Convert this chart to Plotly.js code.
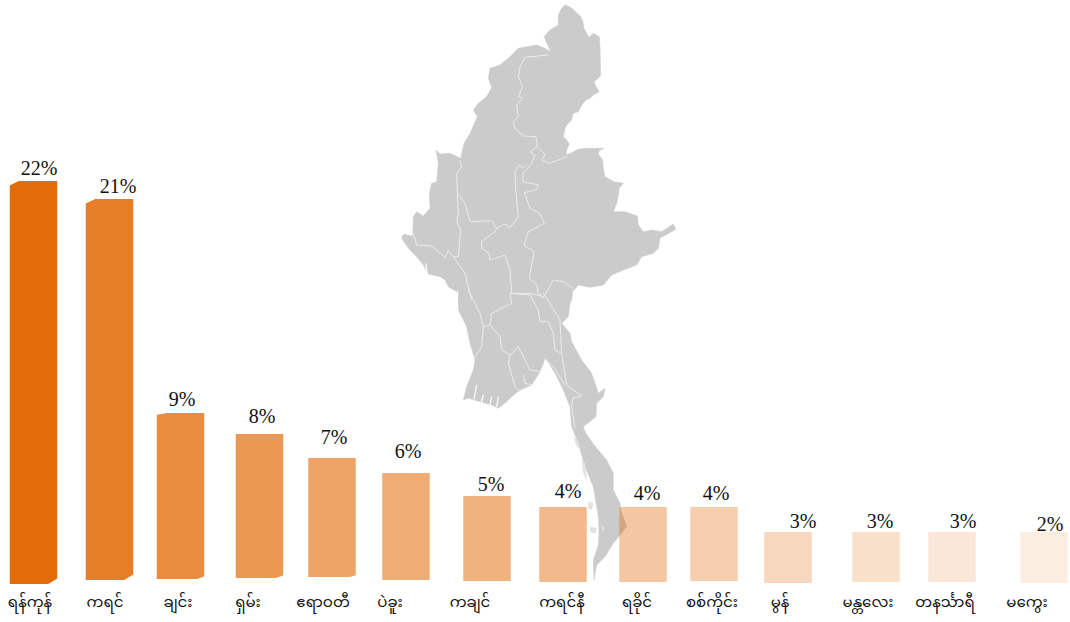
<!DOCTYPE html>
<html>
<head>
<meta charset="utf-8">
<script src="https://cdn.plot.ly/plotly-3.0.1.min.js"></script>
<style>html,body{margin:0;padding:0;background:#fff}#chart{width:1070px;height:622px}</style>
</head>
<body>
<div id="chart"></div>
<script>
// ---- data ----
const regions = ["ရန်ကုန်","ကရင်","ချင်း","ရှမ်း","ဧရာဝတီ","ပဲခူး","ကချင်","ကရင်နီ","ရခိုင်","စစ်ကိုင်း","မွန်","မန္တလေး","တနင်္သာရီ","မကွေး"];
const shareLabels = ["22%","21%","9%","8%","7%","6%","5%","4%","4%","4%","3%","3%","3%","2%"];
const barTops = [22,21,9.2,8.05,6.73,5.9,4.63,4.02,4.02,4.02,2.65,2.65,2.65,2.65];
const barBases = [-0.22,0,0.06,0.11,0.17,0,-0.06,-0.11,-0.11,-0.06,-0.17,-0.11,-0.11,-0.17];
const labelLevels = [22.6,21.6,9.85,8.95,7.75,7,5.2,4.8,4.7,4.7,3.15,3.15,3.15,3.0];

// ---- placement of the irregularly spaced bars ----
const barCenters = [33.5,109.5,180.5,259.5,332,406,487,563,643,714,788,876,952,1044];
const tickCenters = [30,105,178,248,323,390,470,562,637,712,780,868,945,1027];
const labelCenters = [39,118,182,262,334,408,491,568,647,716,803,880,963,1050];
const barOpacity = [1,0.88,0.78,0.7,0.62,0.56,0.52,0.47,0.38,0.33,0.27,0.21,0.16,0.12];
const cutTop = [[13,5],[13,5],[20,2],[0,0],[0,0],[0,0],[0,0],[0,0],[0,0],[0,0],[0,0],[0,0],[0,0],[0,0]];
const cutBottom = [[12,6],[12,6],[12,3],[12,3],[12,2],[0,0],[0,0],[0,0],[0,0],[0,0],[0,0],[0,0],[0,0],[0,0]];
const barWidth = 47.5;

// ---- map outline; north and south pieces, units are 1/3 picture pixel ----
const outlineNorthEast = [[525,15],[535,18],[545,25],[552,30],[562,40],[572,50],[578,62],[582,85],[590,100],[597,112],[610,100],[628,110],[630,140],[630,170],[632,225],[625,235],[612,245],[618,260],[628,275],[610,285],[600,295],[588,300],[575,315],[565,335],[550,340],[545,360],[530,375],[525,385],[520,410],[530,420],[538,432],[530,450],[528,465],[545,458],[565,447],[590,445],[642,445],[628,452],[625,462],[638,480],[640,505],[645,530],[672,545],[700,550],[688,565],[685,585],[680,610],[670,635],[705,635],[742,648],[745,675],[760,695],[785,690],[815,695],[850,672],[857,688],[830,705],[810,715],[805,745],[790,760],[755,770],[740,795],[700,810],[665,825],[640,855],[600,862],[565,855],[548,875],[545,900]];
const outlineSouth = [[360,40],[355,80],[335,100],[360,130],[365,155],[395,210],[425,250],[432,270],[445,310],[465,295],[460,320],[440,340],[438,380],[400,410],[405,425],[425,455],[440,475],[470,510],[490,550],[490,600],[510,640],[512,660],[530,710],[510,735],[490,760],[465,800],[440,825],[432,870],[430,810],[445,765],[447,720],[445,680],[430,590],[405,530],[385,460],[365,410],[360,350],[340,300],[318,255],[300,225],[285,205],[282,215],[270,245],[245,285],[210,300],[185,320],[170,335],[145,355],[125,345],[90,335],[55,325],[40,330],[50,290],[70,240],[75,210],[60,160],[50,110],[25,60],[25,0]];
const outlineNorthWest = [[200,875],[175,860],[165,840],[150,830],[115,822],[100,795],[80,770],[55,745],[35,715],[40,703],[68,708],[70,650],[80,635],[100,648],[120,625],[118,580],[125,550],[140,545],[145,490],[138,450],[150,462],[180,460],[212,475],[222,430],[240,400],[262,350],[250,330],[265,310],[290,290],[305,262],[295,235],[300,205],[330,195],[360,170],[385,145],[440,135],[465,145],[482,155],[462,110],[480,90],[505,75],[505,45],[515,25],[525,15]];
const bordersNorth = [
 [[475,165],[405,172],[390,200],[385,230],[398,260],[385,290],[398,295],[380,315],[385,350],[370,365],[375,385],[400,408],[438,410],[442,440],[465,465],[455,480],[478,490],[530,470]],
 [[442,440],[420,455],[435,465],[425,490],[400,520],[398,545],[445,555],[440,568],[403,578],[420,625],[450,640],[463,670],[415,695],[402,735],[432,755],[425,800],[418,835],[440,855],[445,880],[462,895]],
 [[210,480],[215,500],[200,520],[202,580],[225,610],[240,665],[305,662],[320,685],[345,672],[360,683],[385,650],[378,580],[375,515],[388,495],[400,505],[410,495]],
 [[202,580],[205,640],[200,665],[212,690],[205,770],[190,770],[175,752],[165,772],[125,738],[80,735],[70,700]],
 [[320,685],[315,695],[275,725],[275,745],[297,760],[300,780],[345,765],[360,810],[365,880],[420,880],[462,890],[490,840],[520,845],[550,865]],
 [[190,770],[225,820],[245,900]]
];
const bordersSouth = [
 [[55,0],[90,70],[100,110],[120,105],[125,70],[185,40],[180,10],[240,15],[265,60],[270,95],[295,95],[310,130],[315,180],[335,190],[350,285],[395,318],[368,325],[365,350],[375,415]],
 [[280,10],[330,90],[335,190]],
 [[100,110],[95,170],[70,210]],
 [[120,105],[150,140],[155,180],[180,195],[205,170],[240,240],[275,245]],
 [[180,195],[175,220],[195,290],[210,305]],
 [[285,205],[310,230],[345,285]],
 [[220,255],[225,280],[250,285]]
];
const inletsSouth = [[[80,285],[72,328]],[[100,315],[92,345]],[[125,320],[120,345]],[[145,320],[140,352]],[[20,35],[8,60]]];
const inletsNorth = [[[108,790],[115,850]],[[160,860],[175,890]]];
const islandsSouth = [
 [[415,635],[430,640],[425,660],[415,655]],
 [[420,710],[440,715],[435,730],[420,725]],
 [[455,708],[465,715],[458,722]],
 [[395,510],[405,520],[410,570],[400,550]],
 [[370,440],[385,455],[388,475],[378,465]]
];

// ---- turn the traced pieces into picture units for the map axes ----
const northPt = p => [390+p[0]/3, p[1]/3];
const southPt = p => [450+p[0]/3, 290+p[1]/3];
const outline = [...outlineNorthEast.map(northPt),...outlineSouth.map(southPt),...outlineNorthWest.map(northPt)];
const mapX = outline.map(p=>p[0]), mapY = outline.map(p=>p[1]);
function joinLines(groups){
  const xs=[],ys=[];
  groups.forEach(([lines,fn])=>lines.forEach(l=>{l.map(fn).forEach(p=>{xs.push(p[0]);ys.push(p[1]);});xs.push(null);ys.push(null);}));
  return [xs,ys];
}
const [borderX,borderY] = joinLines([[bordersNorth,northPt],[bordersSouth,southPt]]);
const [inletX,inletY] = joinLines([[inletsNorth,northPt],[inletsSouth,southPt]]);
const [islandX,islandY] = joinLines([[islandsSouth,southPt]]);

// ---- derived, through the bar axis ----
const pxPerPercent = 18.14;
const barHeights = barTops.map((t,i)=>t-barBases[i]);
const cutX = [], cutY = [];
barCenters.forEach((c,i)=>{
  const L=c-barWidth/2, R=c+barWidth/2;
  if(cutTop[i][0]){
    cutX.push(L-1,L+cutTop[i][0],L-1,L-1,null);
    cutY.push(barTops[i],barTops[i]+0.1,barTops[i]-cutTop[i][1]/pxPerPercent,barTops[i]+0.1,null);
  }
  if(cutBottom[i][0]){
    cutX.push(R+1,R-cutBottom[i][0],R+1,R+1,null);
    cutY.push(barBases[i]+cutBottom[i][1]/pxPerPercent,barBases[i]-0.1,barBases[i]-0.1,barBases[i]+cutBottom[i][1]/pxPerPercent,null);
  }
});

const traces = [
 {type:'scatter',mode:'lines',x:mapX,y:mapY,xaxis:'x',yaxis:'y',fill:'toself',fillcolor:'#cbcbcb',line:{color:'#cbcbcb',width:0.5},hoverinfo:'skip'},
 {type:'scatter',mode:'lines',x:islandX,y:islandY,xaxis:'x',yaxis:'y',fill:'toself',fillcolor:'#e2e2e2',line:{color:'#e2e2e2',width:0.5},hoverinfo:'skip'},
 {type:'scatter',mode:'lines',x:borderX,y:borderY,xaxis:'x',yaxis:'y',line:{color:'#ececec',width:1},hoverinfo:'skip'},
 {type:'scatter',mode:'lines',x:inletX,y:inletY,xaxis:'x',yaxis:'y',line:{color:'#ffffff',width:1.2},hoverinfo:'skip'},
 {type:'bar',x:barCenters,y:barHeights,base:barBases,width:barWidth,xaxis:'x2',yaxis:'y2',
  marker:{color:'rgb(227,108,10)',opacity:barOpacity,line:{width:0}},hoverinfo:'skip'},
 {type:'scatter',mode:'lines',x:cutX,y:cutY,xaxis:'x2',yaxis:'y2',fill:'toself',fillcolor:'#ffffff',line:{width:0,color:'#ffffff'},hoverinfo:'skip'},
 {type:'scatter',mode:'text',x:labelCenters,y:labelLevels,text:shareLabels,textposition:'middle center',xaxis:'x2',yaxis:'y2',
  textfont:{family:'"Liberation Serif",serif',size:20,color:'#111111'},cliponaxis:false,hoverinfo:'skip'}
];

const layout = {
 width:1070,height:622,margin:{l:0,r:0,t:0,b:32},showlegend:false,
 paper_bgcolor:'#ffffff',plot_bgcolor:'rgba(0,0,0,0)',
 xaxis:{range:[0,1070],visible:false,fixedrange:true},
 yaxis:{range:[590,0],visible:false,fixedrange:true},
 xaxis2:{range:[0,1070],overlaying:'x',anchor:'y2',side:'bottom',showgrid:false,zeroline:false,showline:false,
   tickmode:'array',tickvals:tickCenters,ticktext:regions,ticks:'',tickangle:0,ticklabelstandoff:1,
   tickfont:{family:'"Noto Sans","Noto Sans Myanmar","Padauk",sans-serif',size:15,color:'#111111'},fixedrange:true},
 yaxis2:{range:[-0.551,31.97],overlaying:'y',anchor:'x2',visible:false,fixedrange:true}
};
Plotly.newPlot('chart',traces,layout,{displayModeBar:false,staticPlot:true});
</script>
</body>
</html>
